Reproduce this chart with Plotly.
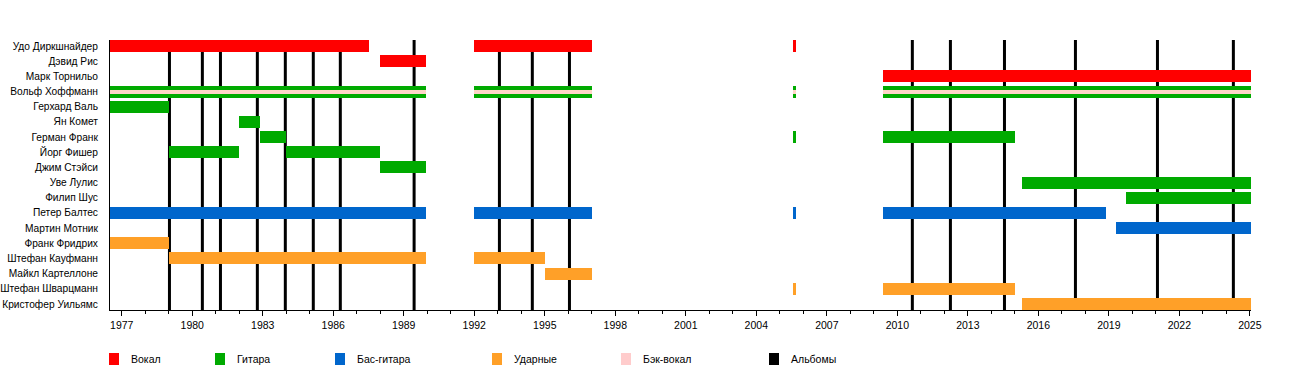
import plotly.graph_objects as go

# ---------------- data ----------------
MEMBERS = [
    "Удо Диркшнайдер", "Дэвид Рис", "Марк Торнильо", "Вольф Хоффманн",
    "Герхард Валь", "Ян Комет", "Герман Франк", "Йорг Фишер", "Джим Стэйси",
    "Уве Лулис", "Филип Шус", "Петер Балтес", "Мартин Мотник",
    "Франк Фридрих", "Штефан Кауфманн", "Майкл Картеллоне",
    "Штефан Шварцманн", "Кристофер Уильямс",
]

# (member, start, end) periods per role
VOCAL_WHO   = ["Удо Диркшнайдер", "Удо Диркшнайдер", "Удо Диркшнайдер", "Дэвид Рис", "Марк Торнильо"]
VOCAL_START = [1976.5, 1992.0, 2005.55, 1988.0, 2009.4]
VOCAL_END   = [1987.5, 1997.0, 2005.7, 1989.95, 2025.05]

GUITAR_WHO = ["Вольф Хоффманн", "Вольф Хоффманн", "Вольф Хоффманн", "Вольф Хоффманн",
              "Герхард Валь", "Ян Комет", "Герман Франк", "Герман Франк", "Герман Франк",
              "Йорг Фишер", "Йорг Фишер", "Джим Стэйси", "Уве Лулис", "Филип Шус"]
GUITAR_START = [1976.5, 1992.0, 2005.55, 2009.4,
                1976.5, 1982.0, 1982.9, 2005.55, 2009.4,
                1979.0, 1984.0, 1988.0, 2015.3, 2019.75]
GUITAR_END = [1989.95, 1997.0, 2005.7, 2025.05,
              1979.0, 1982.9, 1984.0, 2005.7, 2015.0,
              1982.0, 1988.0, 1989.95, 2025.05, 2025.05]

BASS_WHO   = ["Петер Балтес", "Петер Балтес", "Петер Балтес", "Петер Балтес", "Мартин Мотник"]
BASS_START = [1976.5, 1992.0, 2005.55, 2009.4, 2019.3]
BASS_END   = [1989.95, 1997.0, 2005.7, 2018.9, 2025.05]

DRUMS_WHO = ["Франк Фридрих", "Штефан Кауфманн", "Штефан Кауфманн", "Майкл Картеллоне",
             "Штефан Шварцманн", "Штефан Шварцманн", "Кристофер Уильямс"]
DRUMS_START = [1976.5, 1979.0, 1992.0, 1995.0, 2005.55, 2009.4, 2015.3]
DRUMS_END   = [1979.0, 1989.95, 1995.0, 1997.0, 2005.7, 2015.0, 2025.05]

BVOX_WHO   = ["Вольф Хоффманн", "Вольф Хоффманн", "Вольф Хоффманн", "Вольф Хоффманн"]
BVOX_START = [1976.5, 1992.0, 2005.55, 2009.4]
BVOX_END   = [1989.95, 1997.0, 2005.7, 2025.05]

ALBUMS = [1979.03, 1980.43, 1981.2, 1982.77, 1983.96, 1985.15, 1986.3, 1989.44,
          1993.07, 1994.47, 1996.05, 2010.64, 2012.26, 2014.56, 2017.58,
          2021.07, 2024.3]

LEGEND_LABELS = ["Вокал", "Гитара", "Бас-гитара", "Ударные", "Бэк-вокал", "Альбомы"]
TICK_YEARS = list(range(1977, 2026, 3))

# ---------------- styles ----------------
C_VOCAL = "#FF0000"
C_GUITAR = "#00AA00"
C_BASS = "#0066CC"
C_DRUMS = "#FFA028"
C_BVOX = "#FFD6C8"
C_BVOX_LEG = "#FFCCCC"
C_ALBUM = "#000000"
LEGEND_COLORS = [C_VOCAL, C_GUITAR, C_BASS, C_DRUMS, C_BVOX_LEG, C_ALBUM]

FONT = "Liberation Sans, Arial, sans-serif"
FS = 10.5
FS_Y = 10.2
ROW = {name: i for i, name in enumerate(MEMBERS)}

fig = go.Figure()


def add_role(name, who, start, end, color, width):
    fig.add_trace(go.Bar(
        name=name,
        orientation="h",
        y=[ROW[w] for w in who],
        base=start,
        x=[e - s for s, e in zip(start, end)],
        width=width,
        marker=dict(color=color, line=dict(width=0)),
        showlegend=False,
        hovertemplate="%{base} – %{x}<extra>" + name + "</extra>",
    ))


add_role("Вокал", VOCAL_WHO, VOCAL_START, VOCAL_END, C_VOCAL, 0.79)
add_role("Гитара", GUITAR_WHO, GUITAR_START, GUITAR_END, C_GUITAR, 0.79)
add_role("Бас-гитара", BASS_WHO, BASS_START, BASS_END, C_BASS, 0.79)
add_role("Ударные", DRUMS_WHO, DRUMS_START, DRUMS_END, C_DRUMS, 0.79)
add_role("Бэк-вокал", BVOX_WHO, BVOX_START, BVOX_END, C_BVOX, 0.27)

shapes = []
for yr in ALBUMS:
    shapes.append(dict(type="line", xref="x", yref="paper", x0=yr, x1=yr, y0=0, y1=1,
                       line=dict(color=C_ALBUM, width=3), layer="below"))

W, H = 1300, 370
# plot area in window pixels
PLOT_L, PLOT_R, PLOT_T, PLOT_B = 110, 1251, 40, 310


def px_x(p):
    return (p - PLOT_L) / (PLOT_R - PLOT_L)


def px_y(p):
    return (PLOT_B - p) / (PLOT_B - PLOT_T)


LEG_X = [109, 215, 335, 492, 621, 769]
annotations = []
for lx, lab, col in zip(LEG_X, LEGEND_LABELS, LEGEND_COLORS):
    shapes.append(dict(type="rect", xref="paper", yref="paper",
                       x0=px_x(lx), x1=px_x(lx + 10), y0=px_y(365), y1=px_y(353),
                       fillcolor=col, line=dict(width=0), layer="above"))
    annotations.append(dict(xref="paper", yref="paper", x=px_x(lx + 20), y=px_y(359),
                            text=lab, showarrow=False, xanchor="left", yanchor="middle",
                            font=dict(family=FONT, size=FS, color="#000")))

fig.update_layout(
    width=W, height=H,
    margin=dict(l=PLOT_L, r=W - PLOT_R, t=PLOT_T, b=H - PLOT_B, autoexpand=False),
    paper_bgcolor="white", plot_bgcolor="white",
    barmode="overlay",
    bargap=0,
    font=dict(family=FONT, size=FS, color="#000"),
    shapes=shapes,
    annotations=annotations,
    showlegend=False,
    xaxis=dict(
        range=[1976.5, 2025.05], automargin=False,
        tickmode="array", tickvals=TICK_YEARS, ticktext=[str(y) for y in TICK_YEARS],
        ticks="outside", ticklen=5, tickwidth=1, tickcolor="#000",
        minor=dict(dtick=1, tick0=1977, ticks="outside", ticklen=3, tickcolor="#000", showgrid=False),
        showline=True, linecolor="#000", linewidth=1,
        showgrid=False, zeroline=False,
        tickfont=dict(family=FONT, size=FS, color="#000"),
    ),
    yaxis=dict(
        range=[17.4, -0.4], automargin=False,
        tickmode="array", tickvals=list(range(len(MEMBERS))), ticktext=MEMBERS,
        ticks="", showline=True, linecolor="#000", linewidth=1,
        showgrid=False, zeroline=False, ticklabelstandoff=9,
        tickfont=dict(family=FONT, size=FS_Y, color="#000"),
    ),
)

# remove the default page margin so the 1300x370 figure fills the window exactly
fig.write_html("out.html",
               config={"displayModeBar": False},
               post_script="document.body.style.margin='0';document.body.style.overflow='hidden';")
